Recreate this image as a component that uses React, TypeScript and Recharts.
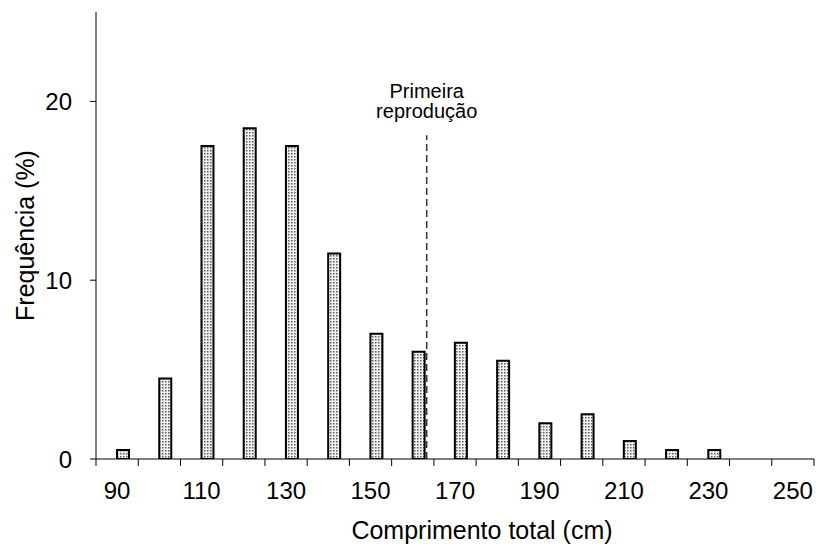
import React from 'react';
import { BarChart, Bar, XAxis, YAxis, ReferenceLine, Label } from 'recharts';

// ---- data ----
const lengthClasses = [90, 100, 110, 120, 130, 140, 150, 160, 170, 180, 190, 200, 210, 220, 230];
const frequencies = [0.5, 4.5, 17.5, 18.5, 17.5, 11.5, 7, 6, 6.5, 5.5, 2, 2.5, 1, 0.5, 0.5];
const xLabelTicks = [90, 110, 130, 150, 170, 190, 210, 230, 250];
const xBoundaryTicks = [85, 95, 105, 115, 125, 135, 145, 155, 165, 175, 185, 195, 205, 215, 225, 235, 245, 255];
const yTicks = [0, 10, 20];
const firstReproduction = 163.3;
const firstReproductionTop = 18.1;
const annotationLines = ['Primeira', 'reprodução'];
const xTitle = 'Comprimento total (cm)';
const yTitle = 'Frequência (%)';

const data = lengthClasses.map((c, i) => ({ length: c, empty: null, freq: frequencies[i] }));
const allXTicks = [...xBoundaryTicks, ...xLabelTicks].sort((a, b) => a - b);

const FONT = '"Liberation Sans", Arial, sans-serif';

const XTick = (props: any) => {
  const { x, y, payload } = props;
  const v = payload.value;
  if (xBoundaryTicks.includes(v)) {
    return <line x1={x} x2={x} y1={y} y2={y + 7} stroke="#000" strokeWidth={1} />;
  }
  return (
    <text x={x} y={y + 40} textAnchor="middle" fontSize={24} fontFamily={FONT} fill="#000">
      {v}
    </text>
  );
};

const XTitle = (props: any) => {
  const { viewBox } = props;
  return (
    <text
      x={viewBox.x + viewBox.width / 2 + 27}
      y={viewBox.y + 80}
      textAnchor="middle"
      fontSize={25}
      fontFamily={FONT}
      fill="#000"
    >
      {xTitle}
    </text>
  );
};

const YTitle = (props: any) => {
  const { viewBox } = props;
  const cx = 25;
  const cy = viewBox.y + viewBox.height / 2;
  return (
    <text
      x={cx}
      y={cy}
      transform={`rotate(-90, ${cx}, ${cy})`}
      textAnchor="middle"
      dominantBaseline="central"
      fontSize={25}
      fontFamily={FONT}
      fill="#000"
    >
      {yTitle}
    </text>
  );
};

const Annotation = (props: any) => {
  const { viewBox } = props;
  const x = viewBox.x;
  const top = viewBox.y;
  return (
    <text textAnchor="middle" fontSize={20} fontFamily={FONT} fill="#000">
      <tspan x={x} y={top - 37}>{annotationLines[0]}</tspan>
      <tspan x={x} y={top - 17}>{annotationLines[1]}</tspan>
    </text>
  );
};

export default function App() {
  return (
    <div style={{ width: 816, height: 548, background: '#fff' }}>
      <style>{'body{margin:0;background:#fff}'}</style>
      <BarChart
        width={816}
        height={548}
        data={data}
        margin={{ top: 12, right: 2, bottom: 0, left: 0 }}
        barGap={0}
        barSize={12}
      >
        <defs>
          <pattern id="dots" width="3" height="3" patternUnits="userSpaceOnUse">
            <rect x="0" y="0" width="3" height="3" fill="#f2f2f2" />
            <rect x="0" y="0" width="1.5" height="1.5" fill="#5a5a5a" />
          </pattern>
        </defs>
        <XAxis
          dataKey="length"
          type="number"
          domain={[85, 255]}
          ticks={allXTicks}
          interval={0}
          tick={<XTick />}
          tickLine={false}
          tickSize={0}
          tickMargin={0}
          height={89}
          axisLine={{ stroke: '#000', strokeWidth: 1 }}
          allowDataOverflow
        >
          <Label content={<XTitle />} />
        </XAxis>
        <YAxis
          type="number"
          domain={[0, 25]}
          ticks={yTicks}
          width={96}
          tickSize={6}
          tickMargin={18}
          tick={{ fill: '#000', fontSize: 24, fontFamily: FONT }}
          axisLine={{ stroke: '#000', strokeWidth: 1 }}
          tickLine={{ stroke: '#000' }}
          allowDataOverflow
        >
          <Label content={<YTitle />} />
        </YAxis>
        <Bar dataKey="empty" isAnimationActive={false} fill="none" />
        <Bar dataKey="freq" fill="url(#dots)" stroke="#000" strokeWidth={2} isAnimationActive={false} />
        <ReferenceLine
          segment={[
            { x: firstReproduction, y: 0 },
            { x: firstReproduction, y: firstReproductionTop },
          ]}
          stroke="#333"
          strokeWidth={1.5}
          strokeDasharray="7 4"
          label={<Annotation />}
        />
      </BarChart>
    </div>
  );
}
